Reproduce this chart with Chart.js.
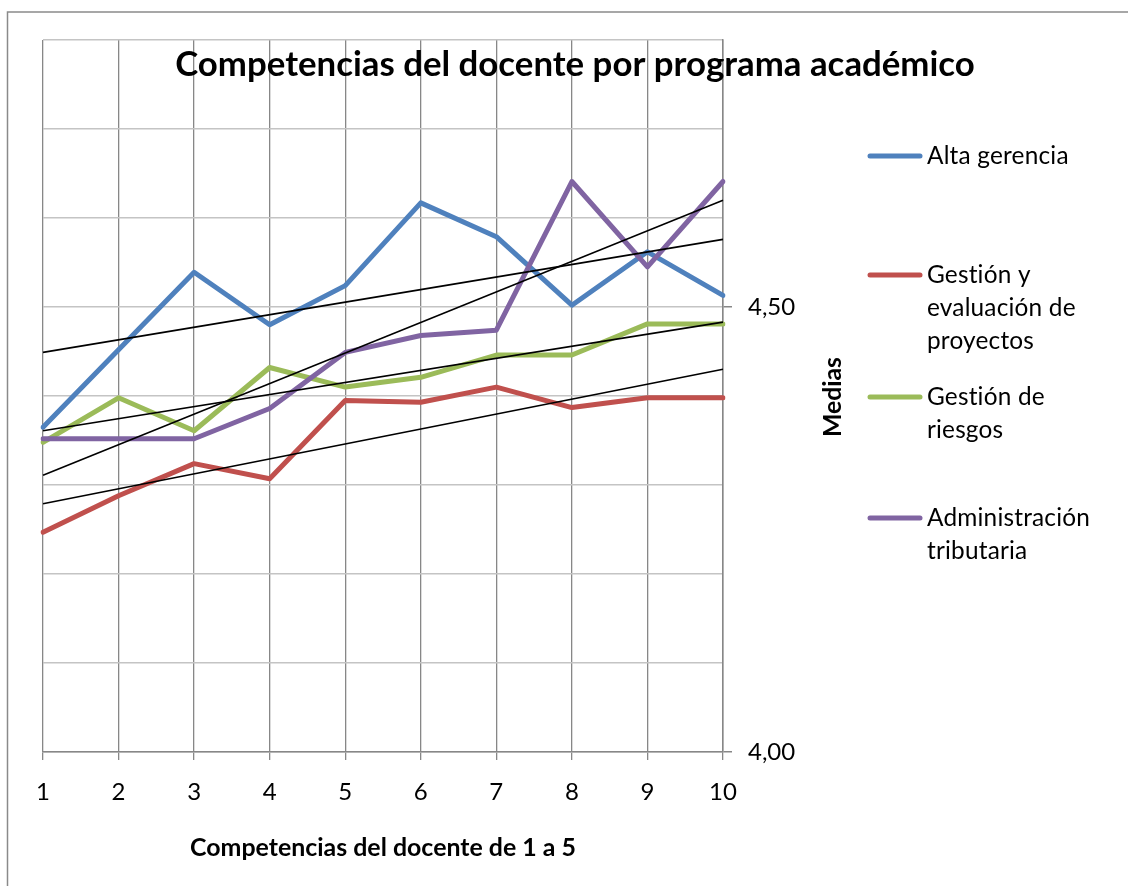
<!DOCTYPE html>
<html>
<head>
<meta charset="utf-8">
<script src="https://cdn.jsdelivr.net/npm/chart.js@4"></script>
<style>body{margin:0;background:#fff}</style>
</head>
<body>
<canvas id="grafico" width="1128" height="886"></canvas>
<script>
const competencias = ['1', '2', '3', '4', '5', '6', '7', '8', '9', '10'];
const altaGerencia = [4.365, 4.452, 4.539, 4.480, 4.524, 4.617, 4.579, 4.502, 4.562, 4.513];
const gestionProyectos = [4.247, 4.288, 4.324, 4.307, 4.395, 4.393, 4.410, 4.387, 4.398, 4.398];
const gestionRiesgos = [4.348, 4.398, 4.361, 4.432, 4.410, 4.421, 4.446, 4.446, 4.481, 4.481];
const adminTributaria = [4.352, 4.352, 4.352, 4.386, 4.449, 4.468, 4.474, 4.641, 4.545, 4.641];
// lineas de tendencia: valor en la competencia 1 y en la 10
const tendAlta = [4.449, 4.576];
const tendProyectos = [4.279, 4.430];
const tendRiesgos = [4.361, 4.483];
const tendTributaria = [4.311, 4.620];
const series = ['Alta gerencia', 'Gestión y evaluación de proyectos', 'Gestión de riesgos', 'Administración tributaria'];
const colores = ['#4F81BD', '#C0504D', '#9BBB59', '#8064A2'];
const yMin = 4.0, yMax = 4.8, yPaso = 0.1;
const yEtiquetas = [4.0, 4.5];
const titulo = 'Competencias del docente por programa académico';
const tituloX = 'Competencias del docente de 1 a 5';
const tituloY = 'Medias';

function extremos(t) {
    const d = competencias.map(() => null);
    d[0] = t[0];
    d[d.length - 1] = t[1];
    return d;
}

function serie(i, datos) {
    return {
        label: series[i],
        data: datos,
        borderColor: colores[i],
        borderWidth: 5,
        borderCapStyle: 'round',
        borderJoinStyle: 'round',
        pointRadius: 0,
        order: 4 - i
    };
}

function tendencia(t) {
    return {
        label: '',
        data: extremos(t),
        borderColor: '#000',
        borderWidth: 1.6,
        pointRadius: 0,
        spanGaps: true,
        order: 0
    };
}

function tamano(c, texto, ancho, peso) {
    c.font = peso + ' 40px Lato';
    return 40 * ancho / c.measureText(texto).width;
}

function partir(c, texto, max) {
    const palabras = texto.split(' ');
    const lineas = [];
    let actual = '';
    palabras.forEach(p => {
        const prueba = actual ? actual + ' ' + p : p;
        if (actual && c.measureText(prueba).width > max) {
            lineas.push(actual);
            actual = p;
        } else {
            actual = prueba;
        }
    });
    lineas.push(actual);
    return lineas;
}

const decorado = {
    id: 'decorado',
    beforeDraw(chart) {
        const c = chart.ctx;
        c.save();
        c.fillStyle = '#fff';
        c.fillRect(0, 0, chart.width, chart.height);
        c.strokeStyle = '#8a8a8a';
        c.lineWidth = 1.5;
        c.strokeRect(7.5, 12, chart.width + 20, chart.height + 20);
        c.restore();
    },
    afterDraw(chart) {
        const c = chart.ctx;
        const a = chart.chartArea;
        c.save();
        c.fillStyle = '#000';
        c.textAlign = 'center';
        c.textBaseline = 'middle';

        c.font = 'bold ' + tamano(c, titulo, 800, 'bold') + 'px Lato';
        c.fillText(titulo, 575, 65);

        c.font = 'bold ' + tamano(c, tituloX, 386, 'bold') + 'px Lato';
        c.fillText(tituloX, (a.left + a.right) / 2, 848);

        c.save();
        c.translate(833, 397);
        c.rotate(-Math.PI / 2);
        c.font = 'bold ' + tamano(c, tituloY, 80, 'bold') + 'px Lato';
        c.fillText(tituloY, 0, 0);
        c.restore();

        // leyenda (sin ligaduras para que "ti" no se junte)
        const inicios = [156, 275, 397, 518];
        c.textRendering = 'optimizeSpeed';
        c.letterSpacing = '0.2px';
        c.font = tamano(c, 'Administración', 162, '') + 'px Lato';
        c.textAlign = 'left';
        series.forEach((nombre, i) => {
            const y = inicios[i];
            c.strokeStyle = colores[i];
            c.lineWidth = 5;
            c.lineCap = 'round';
            c.beginPath();
            c.moveTo(870, y);
            c.lineTo(920, y);
            c.stroke();
            partir(c, nombre, 172).forEach((linea, k) => {
                c.fillText(linea, 927, y + k * 33);
            });
        });
        c.restore();
    }
};

const ctx = document.getElementById('grafico').getContext('2d');
const chart = new Chart(ctx, {
    type: 'line',
    data: {
        labels: competencias,
        datasets: [
            serie(0, altaGerencia),
            serie(1, gestionProyectos),
            serie(2, gestionRiesgos),
            serie(3, adminTributaria),
            tendencia(tendAlta),
            tendencia(tendProyectos),
            tendencia(tendRiesgos),
            tendencia(tendTributaria)
        ]
    },
    options: {
        responsive: false,
        animation: false,
        devicePixelRatio: 1,
        layout: { padding: { left: 43, top: 40, right: 0, bottom: 0 } },
        plugins: {
            legend: { display: false },
            title: { display: false },
            tooltip: { enabled: false }
        },
        scales: {
            x: {
                type: 'category',
                offset: false,
                grid: { color: '#878787', lineWidth: 1.3, tickLength: 8, tickColor: '#878787' },
                border: { color: '#878787', width: 1.5 },
                ticks: { color: '#000', font: { family: 'Lato', size: 24 }, padding: 18, maxRotation: 0, autoSkip: false },
                afterFit(s) { s.height = 134; }
            },
            y: {
                position: 'right',
                min: yMin,
                max: yMax,
                grid: {
                    color: '#c4c4c4',
                    lineWidth: 1.5,
                    tickLength: 9,
                    tickColor: (cx) => yEtiquetas.some(v => Math.abs(v - cx.tick.value) < 1e-6) ? '#878787' : 'rgba(0,0,0,0)'
                },
                border: { color: '#878787', width: 1.5 },
                ticks: {
                    stepSize: yPaso,
                    autoSkip: false,
                    color: '#000',
                    padding: 16,
                    font: { family: 'Lato', size: 24 },
                    callback: (v) => yEtiquetas.some(e => Math.abs(e - v) < 1e-6) ? v.toFixed(2).replace('.', ',') : ''
                },
                afterFit(s) { s.width = 405; }
            }
        }
    },
    plugins: [decorado]
});
</script>
</body>
</html>
